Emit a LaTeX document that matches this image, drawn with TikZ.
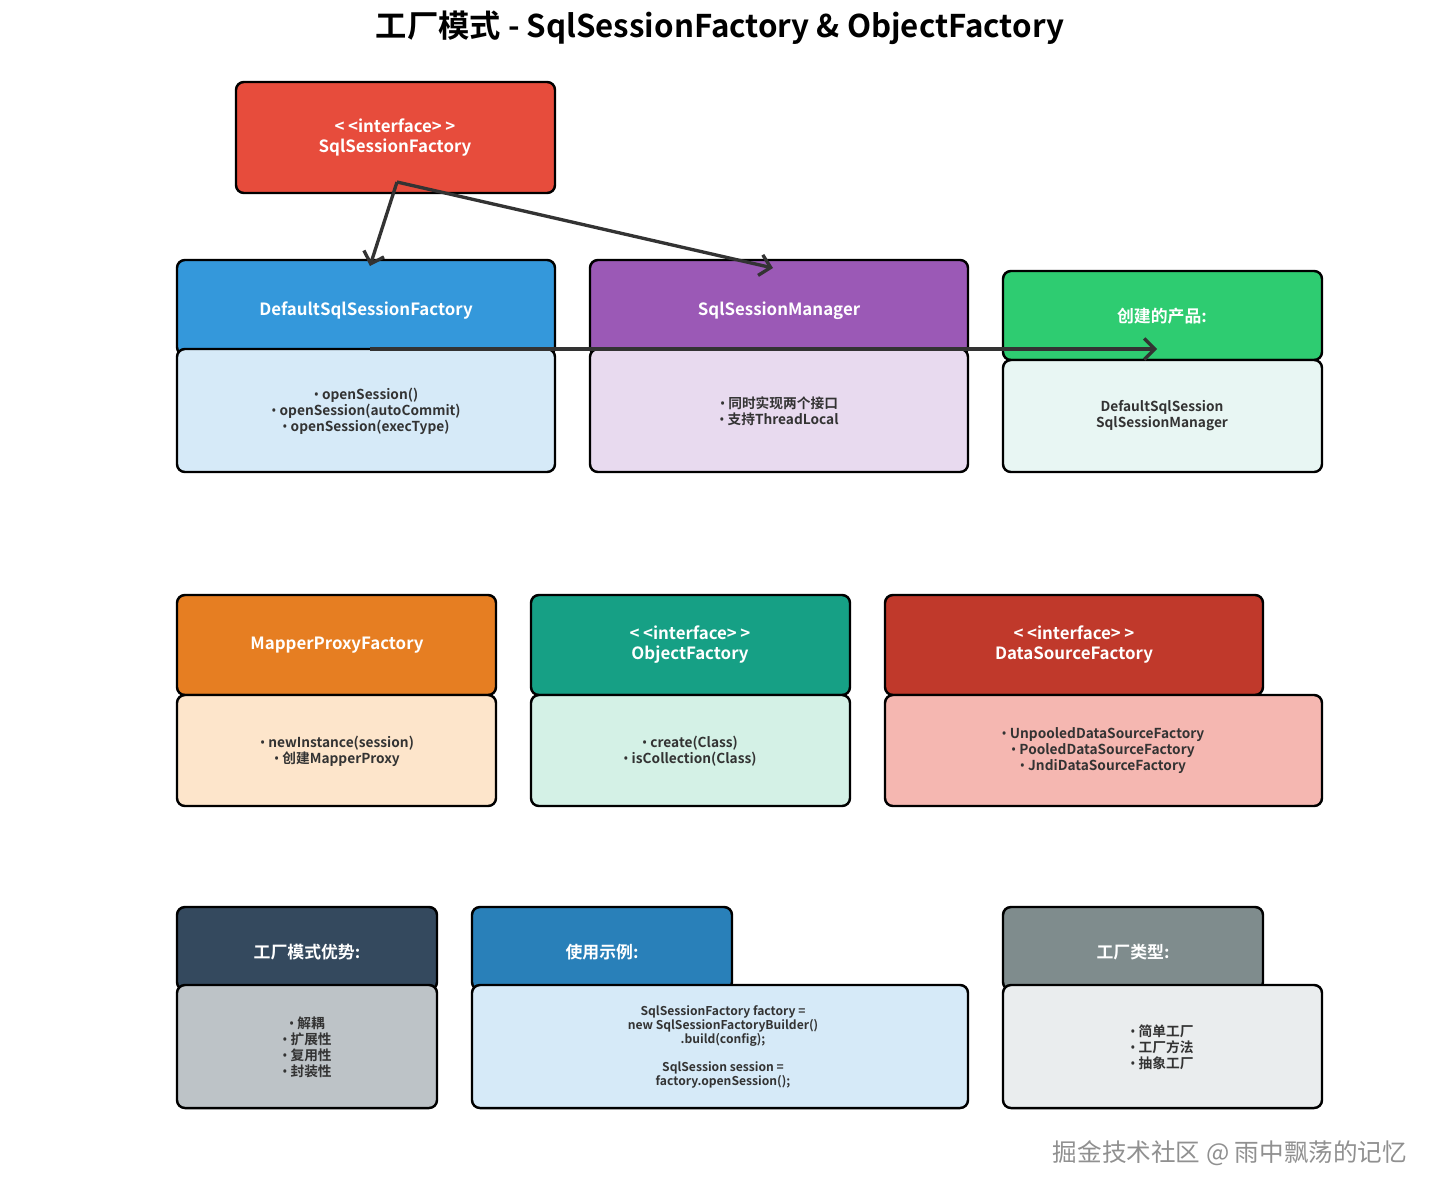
\documentclass[tikz,border=0pt]{standalone}
\usepackage{fontspec}
\setmainfont{Noto Sans CJK SC}[BoldFont={Noto Sans CJK SC Bold}]
\newfontfamily\bulfont{Noto Sans}
\newcommand{\bul}{{\bulfont\bfseries •}}
\usetikzlibrary{arrows.meta}
\definecolor{txtgray}{HTML}{333333}
\definecolor{arrowgray}{HTML}{333333}
\definecolor{ssfred}{HTML}{E74C3C}
\definecolor{dsfblue}{HTML}{3498DB}
\definecolor{dsfbody}{HTML}{D6EAF8}
\definecolor{ssmpurple}{HTML}{9B59B6}
\definecolor{ssmbody}{HTML}{E8DAEF}
\definecolor{prodgreen}{HTML}{2ECC71}
\definecolor{prodbody}{HTML}{E8F6F3}
\definecolor{mpforange}{HTML}{E67E22}
\definecolor{mpfbody}{HTML}{FDE5CB}
\definecolor{ofteal}{HTML}{16A085}
\definecolor{ofbody}{HTML}{D4F1E6}
\definecolor{dsred}{HTML}{C0392B}
\definecolor{dsbody}{HTML}{F5B7B1}
\definecolor{advnavy}{HTML}{34495E}
\definecolor{advbody}{HTML}{BDC3C7}
\definecolor{exblue}{HTML}{2980B9}
\definecolor{exbody}{HTML}{D6EAF8}
\definecolor{typegray}{HTML}{7F8C8D}
\definecolor{typebody}{HTML}{EAEDEE}
\definecolor{markgray}{HTML}{909090}
\tikzset{
  box/.style={draw=black, line width=1.4pt, rounded corners=4.5pt},
  hdtext/.style={text=white, font=\bfseries\fontsize{9.6}{11.4}\selectfont, align=center},
  bdtext/.style={text=txtgray, font=\bfseries\fontsize{7.8}{9.1}\selectfont, align=center},
  codetext/.style={text=txtgray, font=\bfseries\fontsize{6.9}{7.95}\selectfont, align=center},
  link/.style={-{Straight Barb[length=6pt,width=12pt]}, line width=1.9pt, draw=arrowgray}
}
\begin{document}
\begin{tikzpicture}[x=0.02cm,y=-0.02cm]
\useasboundingbox (0,0) rectangle (1440,1198);

\node[font=\bfseries\fontsize{17.8}{20}\selectfont] (title) at (720,28) {工厂模式 - SqlSessionFactory \& ObjectFactory};

\draw[box, fill=ssfred] (236,82) rectangle (555,193);
\node[hdtext] (ssf) at (395,138) {<\kern2pt<interface>\kern2pt>\\SqlSessionFactory};

\draw[box, fill=dsfblue] (177,260) rectangle (555,355);
\draw[box, fill=dsfbody] (177,349) rectangle (555,472);
\node[hdtext] (dsf) at (366,311) {DefaultSqlSessionFactory};
\node[bdtext] (dsfops) at (366,411) {\bul\ openSession()\\\bul\ openSession(autoCommit)\\\bul\ openSession(execType)};

\draw[box, fill=ssmpurple] (590,260) rectangle (968,355);
\draw[box, fill=ssmbody] (590,349) rectangle (968,472);
\node[hdtext] (ssm) at (779,311) {SqlSessionManager};
\node[bdtext] (ssmops) at (779,411) {\bul\ 同时实现两个接口\\\bul\ 支持ThreadLocal};

\draw[box, fill=prodgreen] (1003,271) rectangle (1322,360);
\draw[box, fill=prodbody] (1003,360) rectangle (1322,472);
\node[hdtext] (prod) at (1162,316) {创建的产品:};
\node[bdtext] (prodlist) at (1162,416) {DefaultSqlSession\\SqlSessionManager};

\draw[box, fill=mpforange] (177,595) rectangle (496,695);
\draw[box, fill=mpfbody] (177,695) rectangle (496,806);
\node[hdtext] (mpf) at (337,645) {MapperProxyFactory};
\node[bdtext] (mpfops) at (337,751) {\bul\ newInstance(session)\\\bul\ 创建MapperProxy};

\draw[box, fill=ofteal] (531,595) rectangle (850,695);
\draw[box, fill=ofbody] (531,695) rectangle (850,806);
\node[hdtext] (of) at (690,645) {<\kern2pt<interface>\kern2pt>\\ObjectFactory};
\node[bdtext] (ofops) at (690,751) {\bul\ create(Class)\\\bul\ isCollection(Class)};

\draw[box, fill=dsred] (885,595) rectangle (1263,695);
\draw[box, fill=dsbody] (885,695) rectangle (1322,806);
\node[hdtext] (dsf2) at (1074,645) {<\kern2pt<interface>\kern2pt>\\DataSourceFactory};
\node[bdtext] (dsimpl) at (1103,751) {\bul\ UnpooledDataSourceFactory\\\bul\ PooledDataSourceFactory\\\bul\ JndiDataSourceFactory};

\draw[box, fill=advnavy] (177,907) rectangle (437,990);
\draw[box, fill=advbody] (177,985) rectangle (437,1108);
\node[hdtext] (adv) at (307,952) {工厂模式优势:};
\node[bdtext] (advlist) at (307,1047) {\bul\ 解耦\\\bul\ 扩展性\\\bul\ 复用性\\\bul\ 封装性};

\draw[box, fill=exblue] (472,907) rectangle (732,990);
\draw[box, fill=exbody] (472,985) rectangle (968,1108);
\node[hdtext] (ex) at (602,952) {使用示例:};
\node[codetext] (excode) at (723,1047) {SqlSessionFactory factory =\\new SqlSessionFactoryBuilder()\\.build(config);\\[7.95pt]SqlSession session =\\factory.openSession();};

\draw[box, fill=typegray] (1003,907) rectangle (1263,990);
\draw[box, fill=typebody] (1003,985) rectangle (1322,1108);
\node[hdtext] (types) at (1133,952) {工厂类型:};
\node[bdtext] (typelist) at (1162,1047) {\bul\ 简单工厂\\\bul\ 工厂方法\\\bul\ 抽象工厂};

\coordinate (ssfout) at (397,182);
\coordinate (dsfin) at (370,266);
\coordinate (ssmin) at (773,268);
\coordinate (dsfout) at (370,349);
\coordinate (prodin) at (1157,349);
\draw[link] (ssfout) -- (dsfin);
\draw[link] (ssfout) -- (ssmin);
\draw[link] (dsfout) -- (prodin);

\node[text=markgray, font=\fontsize{14}{16}\selectfont] (mark) at (1230,1153) {掘金技术社区 @ 雨中飘荡的记忆};
\end{tikzpicture}
\end{document}
